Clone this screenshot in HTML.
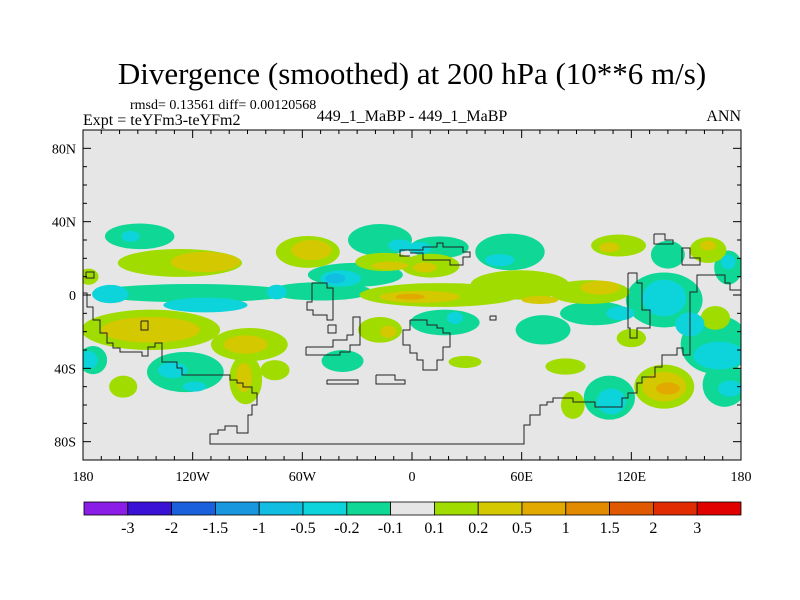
<!DOCTYPE html>
<html><head><meta charset="utf-8">
<style>
body{margin:0;background:#fff;}
svg{display:block;font-family:"Liberation Serif",serif;}
</style></head>
<body>
<svg id="chart" width="800" height="600" viewBox="0 0 800 600" xmlns="http://www.w3.org/2000/svg">
<text x="412" y="84" font-size="31" text-anchor="middle">Divergence (smoothed) at 200 hPa (10**6 m/s)</text>
<text x="130" y="109" font-size="14">rmsd= 0.13561 diff= 0.00120568</text>
<text x="83" y="125" font-size="16">Expt = teYFm3-teYFm2</text>
<text x="412" y="121" font-size="16" text-anchor="middle">449_1_MaBP - 449_1_MaBP</text>
<text x="741" y="121" font-size="16" text-anchor="end">ANN</text>
<defs><clipPath id="mapclip"><rect x="83" y="130" width="658" height="330"/></clipPath></defs>
<rect x="83" y="130" width="658" height="330" fill="#e6e6e6"/>
<g id="fields" clip-path="url(#mapclip)"></g>
<g id="coast" clip-path="url(#mapclip)" fill="none" stroke="#222" stroke-width="1"></g>
<rect x="83" y="130" width="658" height="330" fill="none" stroke="#000" stroke-width="1"/>
<g id="axes"></g>
<g id="colorbar"></g>
</svg>
<script>
// contour field approximated as blobs: [lon, lat, lonRadius, latRadius, level]
const blobLon = [-149,-154,-17.5,-6.5,-120,-165,-113,-50,-74,-31,-39,-42,15,4,53.6,48,18,23.5,71.7,-124,-131,-119,-174.5,-177,-38,138,166,138,168,152,100,114,108,109,171,174,140,173,173,
 -127,-113,-57,-55,-15,-12,15.3,4.4,-1,59,97,103,70,10,7,113,108,162,162,-143,-143,-89,-91,-91,-92,-75,-158,-17.5,-13,84,29,120,166,138,138,140,88,-177];
const blobLat = [32,32,30,27,1,0.5,-5.5,2,1.6,11,9,9,26,25.6,23.5,19,-15,-12.5,-19,-42,-41,-50,-35.5,-35.5,-36,-2.7,-27,-1.6,-33,-16,-10,-10,-56,-58,-49,-51,22,15,18,
 17.5,18,23.5,24.5,18,16,0,-1,-1,5.5,1.6,4,-2.7,16,15,27,26,24.5,27,-19,-19,-27,-27,-46,-45,-41,-50,-19,-20,-39,-36.5,-23.5,-12.5,-50,-50,-51,-60,10];
const blobRLon = [19,5,17.5,6.5,55,10,23,28,5.5,26,11,5.5,16,6.5,19,8,19,4.4,15,21,8,6.5,7.7,5,11.5,21,19,12,14,8,19,7.7,14,8,12,6.5,9.3,7.7,4,
 34,19,17.5,11,16,10,44,22,8,27,22,11,10,16,6.5,15,5.5,10,4.4,38,27,21,12,9,4.4,8,7.7,12,4.4,11,9,8,8,16.4,12,6.5,6.5,5.5];
const blobRLat = [7,3,8.7,3.3,5,5,4,5,4,6.5,4.4,2.7,6,3.3,10,3.3,7,3.3,8,11,4.4,2.7,7.7,5,6,15,16,10,7.6,6.5,6.5,3.8,12,7,12,4.4,7.6,9.3,4,
 7.6,5.5,8.7,5.5,5,2.2,6.5,3.3,1.6,8,6.5,3.8,2.2,6.5,2.7,6,2.7,7,2.7,11,7,9,5,13.6,8,5.5,6,7,3.3,4.4,3.3,5,6.5,12,8,3.3,7.6,4.4];
const blobLevel = [-1,-2,-1,-2,-1,-2,-2,-1,-2,-1,-2,-3,-1,-2,-1,-2,-1,-2,-1,-1,-2,-2,-1,-2,-1,-1,-1,-2,-2,-2,-1,-2,-1,-2,-1,-2,-1,-1,-2,
 1,2,1,2,1,2,1,2,3,1,1,2,2,1,2,1,2,1,2,1,2,1,2,1,2,1,1,1,2,1,1,1,1,1,2,3,1,1];
const cbLabels = ["-3","-2","-1.5","-1","-0.5","-0.2","-0.1","0.1","0.2","0.5","1","1.5","2","3"];
const cbColors = ["#8a1de6","#3a12d6","#1a5fdc","#1896de","#12bde2","#0cd4da","#0fd896","#e6e6e6","#a0dc00","#d4c800","#e2aa00","#e28a00","#e05800","#e02c00","#e00000"];
const lonLabels = ["180","120W","60W","0","60E","120E","180"];
const lonTicks = [-180,-120,-60,0,60,120,180];
const latLabels = ["80N","40N","0","40S","80S"];
const latTicks = [80,40,0,-40,-80];

const NS="http://www.w3.org/2000/svg";
const X0=83,X1=741,Y0=130,Y1=460;
const xs = lon => X0+(lon+180)/360*(X1-X0);
const ys = lat => Y0+(90-lat)/180*(Y1-Y0);
const levelColor = {"-3":"#12bde2","-2":"#0cd4da","-1":"#0fd896","1":"#a0dc00","2":"#d4c800","3":"#e2aa00"};
function mk(tag,attrs,parent){const e=document.createElementNS(NS,tag);for(const k in attrs)e.setAttribute(k,attrs[k]);parent.appendChild(e);return e;}

const fields=document.getElementById('fields');
const order=blobLon.map((_,i)=>i).sort((a,b)=>Math.abs(blobLevel[a])-Math.abs(blobLevel[b]));
order.forEach(i=>{
  const e=mk('ellipse',{cx:xs(blobLon[i]),cy:ys(blobLat[i]),rx:blobRLon[i]*(X1-X0)/360,ry:blobRLat[i]*(Y1-Y0)/180,fill:levelColor[blobLevel[i]]},fields);
  
  
});

// coastline outlines (approximate, pixel geometry)
const coastPaths=[
"83,293 87,293 87,307 93,307 93,320 100,320 100,333 107,333 107,343 113,343 113,348 120,348 120,352 142,352 142,356 148,356 148,347 155,347 155,343 162,343 162,362 177,362 177,368 182,368 182,375 230,375 230,380 237,380 237,383 243,383 243,387 252,387 252,393 257,393 257,405 252,405 252,415 248,415 248,425",
"248,425 248,433 237,433 237,426 225,426 225,430 218,430 218,434 210,434 210,444 524,444 524,425 530,425 530,415 540,415 540,405 547,405 547,402 553,402 553,398 573,398 573,402 595,402 595,407 622,407 622,398 628,398 628,393 637,393 637,383 642,383 642,377 655,377 655,367 662,367 662,355 677,355 677,348 683,348 683,355 690,355 690,292 697,292 697,275 725,275 725,283 730,283 730,290 741,290",
"410,320 427,320 427,325 437,325 437,328 443,328 443,333 450,333 450,347 443,347 443,360 437,360 437,370 423,370 423,360 417,360 417,353 410,353 410,345 403,345 403,330 410,330 410,320",
"410,253 423,253 423,260 450,260 450,265 463,265 463,257 470,257 470,252 463,252 463,247 443,247 443,243 437,243 437,247 423,247 423,250 410,250 400,250 400,256 410,256",
"312,283 327,283 327,288 333,288 333,320 327,320 327,315 313,315 313,310 307,310 307,302 312,302 312,283",
"628,273 637,273 637,283 642,283 642,310 650,310 650,328 637,328 637,338 630,338 630,328 628,328 628,273",
"306,347 333,347 333,340 347,340 347,335 353,335 353,317 360,317 360,345 350,345 350,352 340,352 340,355 306,355 306,347",
"327,380 358,380 358,384 327,384 327,380",
"376,375 395,375 395,380 405,380 405,384 376,384 376,375",
"654,234 665,234 665,240 673,240 673,244 654,244 654,234",
"682,265 682,248 690,248 690,258 700,258 700,265 682,265",
"86,272 94,272 94,278 86,278 86,272",
"141,321 148,321 148,330 141,330 141,321",
"328,325 336,325 336,333 328,333 328,325",
"490,316 496,316 496,320 490,320 490,316"];
const coast=document.getElementById('coast');
coastPaths.forEach(p=>{const e=mk('polyline',{points:p},coast);
  
  });

// axes
const axes=document.getElementById('axes');
for(let lon=-180;lon<=180;lon+=10){
  const major=lon%60===0, L=major?8:4;
  mk('line',{x1:xs(lon),x2:xs(lon),y1:Y1,y2:Y1-L,stroke:'#000'},axes);
  mk('line',{x1:xs(lon),x2:xs(lon),y1:Y0,y2:Y0+L,stroke:'#000'},axes);
}
for(let lat=-80;lat<=80;lat+=10){
  const major=lat%40===0, L=major?8:4;
  mk('line',{x1:X0,x2:X0+L,y1:ys(lat),y2:ys(lat),stroke:'#000'},axes);
  mk('line',{x1:X1,x2:X1-L,y1:ys(lat),y2:ys(lat),stroke:'#000'},axes);
}
lonTicks.forEach((v,i)=>{const t=mk('text',{x:xs(v),y:481,'font-size':14,'text-anchor':'middle'},axes);t.textContent=lonLabels[i];
  
  });
latTicks.forEach((v,i)=>{const t=mk('text',{x:76,y:ys(v)+5,'font-size':14,'text-anchor':'end'},axes);t.textContent=latLabels[i];
  
  });

// colorbar
const cb=document.getElementById('colorbar');
const cbX0=84,cbX1=741,cbY=502,cbH=13,bw=(cbX1-cbX0)/cbColors.length;
cbColors.forEach((c,i)=>{const r=mk('rect',{x:cbX0+i*bw,y:cbY,width:bw,height:cbH,fill:c,stroke:'#000','stroke-width':0.8},cb);
  
  });
cbLabels.forEach((s,i)=>{const t=mk('text',{x:cbX0+(i+1)*bw,y:533,'font-size':16,'text-anchor':'middle'},cb);t.textContent=s;
  
  });
</script>
</body></html>
